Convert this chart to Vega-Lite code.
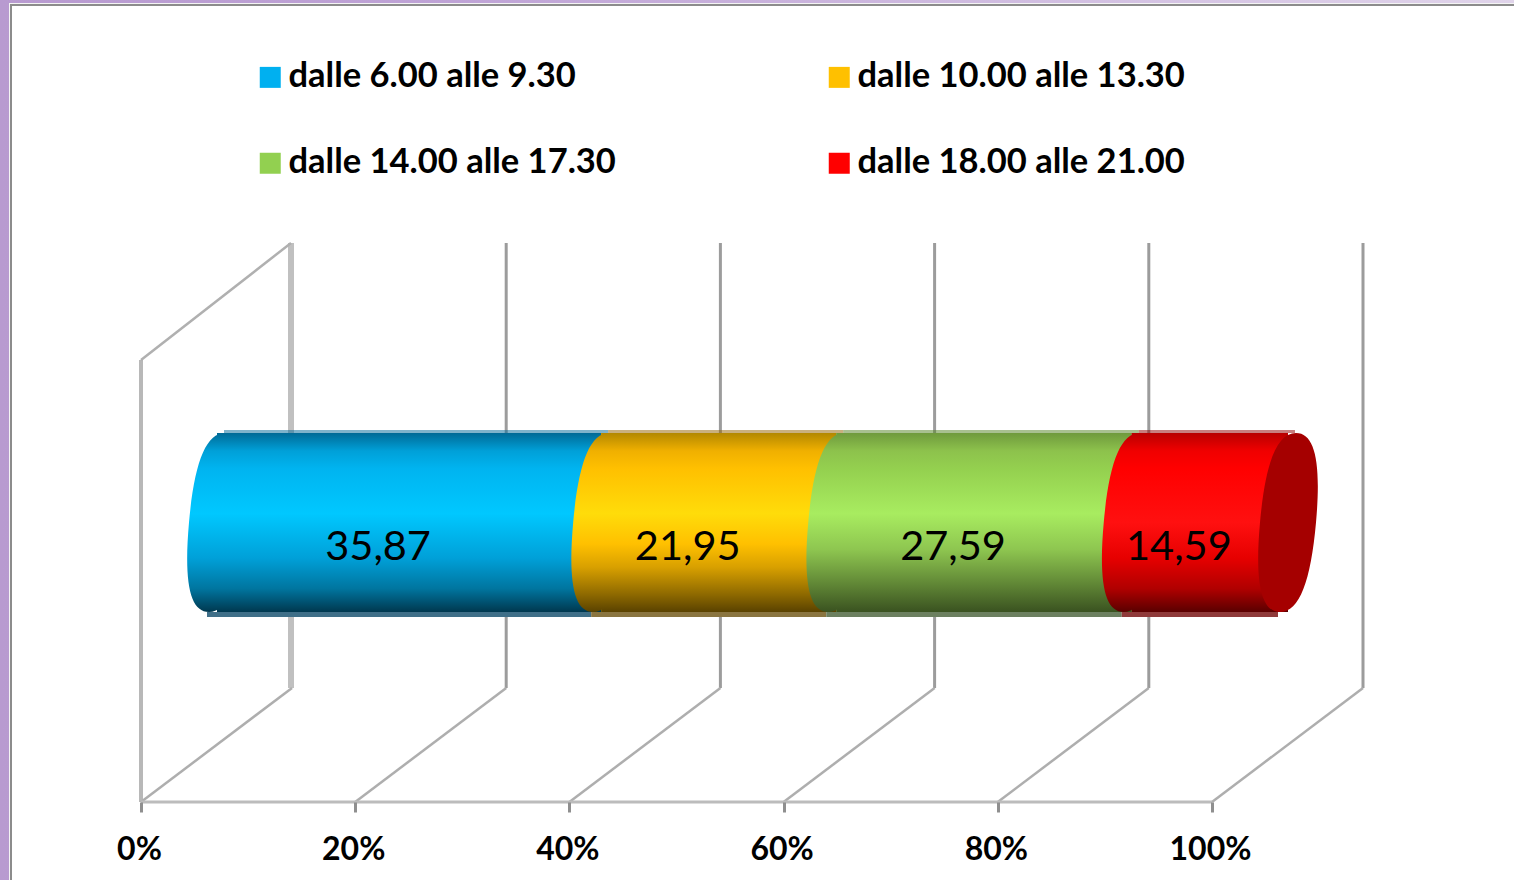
{
"$schema":"https://vega.github.io/schema/vega-lite/v6.json",
"width":1071,"height":559,
"autosize":{"type":"none"},
"padding":{"left":141,"top":243,"right":302,"bottom":78},
"background":"white",
"datasets":{
"griglia":[{"percento":0},{"percento":20},{"percento":40},{"percento":60},{"percento":80},{"percento":100}],
"cornice":[{"pannello":"sfondo"}]
},
"data":{"values":[
{"fascia":"dalle 6.00 alle 9.30","ordine":1,"valore":35.87,"etichetta":"35,87"},
{"fascia":"dalle 10.00 alle 13.30","ordine":2,"valore":21.95,"etichetta":"21,95"},
{"fascia":"dalle 14.00 alle 17.30","ordine":3,"valore":27.59,"etichetta":"27,59"},
{"fascia":"dalle 18.00 alle 21.00","ordine":4,"valore":14.59,"etichetta":"14,59"}
]},
"transform":[{"stack":"valore","groupby":[],"sort":[{"field":"ordine","order":"ascending"}],"as":["inizio","fine"]}],
"resolve":{"scale":{"fill":"independent"}},
"config":{
"view":{"stroke":null},
"axisY":{"disable":true},
"axisX":{"domain":false,"grid":false,"title":null,"tickColor":"#8f8f8f","tickSize":10,"tickWidth":3,"labelFont":"Lato","labelFontSize":32,"labelFontWeight":"bold","labelColor":"black","labelPadding":22,"labelOffset":-2,"labelFlush":false,"labelOverlap":false}
},
"layer":[
{"data":{"name":"cornice"},"mark":{"type":"rect","xOffset":-141,"x2Offset":302,"yOffset":-243,"y2Offset":78,"fill":{"gradient":"linear","x1":0,"y1":0,"x2":1,"y2":0,"stops":[{"offset":0,"color":"#b89ad0"},{"offset":0.3,"color":"#bfa3d6"},{"offset":1,"color":"#e0d4ea"}]}},
 "encoding":{"x":{"datum":0,"type":"quantitative","title":null,"scale":{"domain":[0,100],"nice":false,"zero":false},"axis":{"zindex":1,"values":[0,20,40,60,80,100],"labelExpr":"datum.value + '%'"}},"x2":{"datum":100},"y":{"datum":100,"type":"quantitative","title":null,"scale":{"domain":[0,100],"nice":false,"zero":false}},"y2":{"datum":0}}},
{"data":{"name":"cornice"},"mark":{"type":"rect","xOffset":-132,"x2Offset":302,"yOffset":-240,"y2Offset":78,"fill":"#f4f4f4"},
 "encoding":{"x":{"datum":0,"type":"quantitative","title":null},"x2":{"datum":100},"y":{"datum":100,"type":"quantitative","title":null},"y2":{"datum":0}}},
{"data":{"name":"cornice"},"mark":{"type":"rect","xOffset":-131,"x2Offset":302,"yOffset":-239,"y2Offset":78,"fill":"#8c8c8c"},
 "encoding":{"x":{"datum":0,"type":"quantitative","title":null},"x2":{"datum":100},"y":{"datum":100,"type":"quantitative","title":null},"y2":{"datum":0}}},
{"data":{"name":"cornice"},"mark":{"type":"rect","xOffset":-129,"x2Offset":302,"yOffset":-237,"y2Offset":78,"fill":"white"},
 "encoding":{"x":{"datum":0,"type":"quantitative","title":null},"x2":{"datum":100},"y":{"datum":100,"type":"quantitative","title":null},"y2":{"datum":0}}},
{"data":{"name":"griglia"},"transform":[{"filter":"datum.percento > 0"}],"mark":{"type":"rule","color":"#9c9c9c","strokeWidth":3,"xOffset":151},
 "encoding":{"x":{"field":"percento","type":"quantitative","title":null},"y":{"datum":100,"type":"quantitative","title":null},"y2":{"datum":20.4}}},
{"data":{"name":"griglia"},"transform":[{"filter":"datum.percento == 0"}],"mark":{"type":"rule","color":"#c0c0c0","strokeWidth":6,"xOffset":150},
 "encoding":{"x":{"field":"percento","type":"quantitative","title":null},"y":{"datum":100,"type":"quantitative","title":null},"y2":{"datum":20.4}}},
{"data":{"name":"griglia"},"transform":[{"filter":"datum.percento == 0"}],"mark":{"type":"rule","color":"#b8b8b8","strokeWidth":4},
 "encoding":{"x":{"field":"percento","type":"quantitative","title":null},"y":{"datum":79.07,"type":"quantitative","title":null},"y2":{"datum":0}}},
{"data":{"name":"griglia"},"transform":[{"filter":"datum.percento == 0"}],"mark":{"type":"rule","color":"#b0b0b0","strokeWidth":2.5,"x2Offset":150},
 "encoding":{"x":{"field":"percento","type":"quantitative","title":null},"x2":{"field":"percento"},"y":{"datum":79.07,"type":"quantitative","title":null},"y2":{"datum":100}}},
{"data":{"name":"griglia"},"mark":{"type":"rule","color":"#aeaeae","strokeWidth":2.5,"x2Offset":151},
 "encoding":{"x":{"field":"percento","type":"quantitative","title":null},"x2":{"field":"percento"},"y":{"datum":0,"type":"quantitative","title":null},"y2":{"datum":20.4}}},
{"data":{"name":"cornice"},"mark":{"type":"rule","color":"#bcbcbc","strokeWidth":3},
 "encoding":{"x":{"datum":0,"type":"quantitative","title":null},"x2":{"datum":100},"y":{"datum":0,"type":"quantitative","title":null}}},
{"mark":{"type":"rect","xOffset":76,"x2Offset":76},
 "encoding":{"x":{"field":"inizio","type":"quantitative","title":null},"x2":{"field":"fine"},"y":{"datum":66,"type":"quantitative","title":null},"y2":{"datum":34},
 "fill":{"field":"fascia","type":"nominal","sort":null,"title":null,"scale":{"domain":["dalle 6.00 alle 9.30","dalle 14.00 alle 17.30","dalle 10.00 alle 13.30","dalle 18.00 alle 21.00"],"range":["#00b0f0","#92d050","#ffc000","#ff0000"]},
 "legend":{"orient":"none","legendX":112,"legendY":-183,"columns":2,"columnPadding":206,"rowPadding":51,"symbolType":"square","symbolSize":441,"symbolStrokeWidth":0,"labelFont":"Lato","labelFontSize":34.5,"labelFontWeight":"bold","labelColor":"black","labelLimit":500,"labelOffset":1,"title":null}}}},
{"mark":{"type":"rect","xOffset":83,"x2Offset":83,"opacity":0.5},
 "encoding":{"x":{"field":"inizio","type":"quantitative","title":null},"x2":{"field":"fine"},"y":{"datum":66.55,"type":"quantitative","title":null},"y2":{"datum":66},
 "fill":{"field":"fascia","type":"nominal","sort":null,"legend":null,"scale":{"domain":["dalle 6.00 alle 9.30","dalle 10.00 alle 13.30","dalle 14.00 alle 17.30","dalle 18.00 alle 21.00"],"range":["#006797","#936100","#518121","#910000"]}}}},
{"mark":{"type":"rect","xOffset":66,"x2Offset":66},
 "encoding":{"x":{"field":"inizio","type":"quantitative","title":null},"x2":{"field":"fine"},"y":{"datum":34,"type":"quantitative","title":null},"y2":{"datum":33.1},
 "fill":{"field":"fascia","type":"nominal","sort":null,"legend":null,"scale":{"domain":["dalle 6.00 alle 9.30","dalle 10.00 alle 13.30","dalle 14.00 alle 17.30","dalle 18.00 alle 21.00"],"range":["#3f6f88","#8a7540","#6c8060","#8f3a3a"]}}}},

{"transform":[{"filter":"datum.ordine == 1"}],"mark":{"type":"rect","xOffset":76,"x2Offset":76,"fill":{"gradient":"linear","x1":0,"y1":0,"x2":0,"y2":1,"stops":[{"offset":0,"color":"#006a96"},{"offset":0.1,"color":"#00a0d8"},{"offset":0.2,"color":"#00b4f0"},{"offset":0.45,"color":"#00c8ff"},{"offset":0.7,"color":"#00a0d8"},{"offset":0.87,"color":"#00759f"},{"offset":1,"color":"#00384f"}]}},
 "encoding":{"x":{"field":"inizio","type":"quantitative","title":null},"x2":{"field":"fine"},"y":{"datum":66,"type":"quantitative","title":null},"y2":{"datum":34}}},
{"transform":[{"filter":"datum.ordine == 1"}],"mark":{"type":"point","filled":true,"opacity":1,"size":4,"xOffset":76,"shape":"M8,-89.5C-11.6,-89.5,-22.8,-58.2,-28,0C-33.2,58.2,-27.6,89.5,-8,89.5C11.6,89.5,22.8,58.2,28,0C33.2,-58.2,27.6,-89.5,8,-89.5Z","fill":{"gradient":"linear","x1":0,"y1":0,"x2":0,"y2":1,"stops":[{"offset":0,"color":"#006a96"},{"offset":0.1,"color":"#00a0d8"},{"offset":0.2,"color":"#00b4f0"},{"offset":0.45,"color":"#00c8ff"},{"offset":0.7,"color":"#00a0d8"},{"offset":0.87,"color":"#00759f"},{"offset":1,"color":"#00384f"}]}},
 "encoding":{"x":{"field":"inizio","type":"quantitative","title":null},"y":{"datum":50,"type":"quantitative","title":null}}},

{"transform":[{"filter":"datum.ordine == 2"}],"mark":{"type":"rect","xOffset":76,"x2Offset":76,"fill":{"gradient":"linear","x1":0,"y1":0,"x2":0,"y2":1,"stops":[{"offset":0,"color":"#b38800"},{"offset":0.1,"color":"#f0b000"},{"offset":0.2,"color":"#ffc000"},{"offset":0.45,"color":"#ffdc0a"},{"offset":0.62,"color":"#ffc000"},{"offset":0.75,"color":"#d8a000"},{"offset":0.9,"color":"#8f6a00"},{"offset":1,"color":"#5a4200"}]}},
 "encoding":{"x":{"field":"inizio","type":"quantitative","title":null},"x2":{"field":"fine"},"y":{"datum":66,"type":"quantitative","title":null},"y2":{"datum":34}}},
{"transform":[{"filter":"datum.ordine == 2"}],"mark":{"type":"point","filled":true,"opacity":1,"size":4,"xOffset":76,"shape":"M8,-89.5C-11.6,-89.5,-22.8,-58.2,-28,0C-33.2,58.2,-27.6,89.5,-8,89.5C11.6,89.5,22.8,58.2,28,0C33.2,-58.2,27.6,-89.5,8,-89.5Z","fill":{"gradient":"linear","x1":0,"y1":0,"x2":0,"y2":1,"stops":[{"offset":0,"color":"#b38800"},{"offset":0.1,"color":"#f0b000"},{"offset":0.2,"color":"#ffc000"},{"offset":0.45,"color":"#ffdc0a"},{"offset":0.62,"color":"#ffc000"},{"offset":0.75,"color":"#d8a000"},{"offset":0.9,"color":"#8f6a00"},{"offset":1,"color":"#5a4200"}]}},
 "encoding":{"x":{"field":"inizio","type":"quantitative","title":null},"y":{"datum":50,"type":"quantitative","title":null}}},

{"transform":[{"filter":"datum.ordine == 3"}],"mark":{"type":"rect","xOffset":76,"x2Offset":76,"fill":{"gradient":"linear","x1":0,"y1":0,"x2":0,"y2":1,"stops":[{"offset":0,"color":"#6f9a3d"},{"offset":0.1,"color":"#8dc24c"},{"offset":0.2,"color":"#94d04f"},{"offset":0.45,"color":"#a8ec60"},{"offset":0.65,"color":"#8ec650"},{"offset":0.85,"color":"#5f8535"},{"offset":1,"color":"#3a5220"}]}},
 "encoding":{"x":{"field":"inizio","type":"quantitative","title":null},"x2":{"field":"fine"},"y":{"datum":66,"type":"quantitative","title":null},"y2":{"datum":34}}},
{"transform":[{"filter":"datum.ordine == 3"}],"mark":{"type":"point","filled":true,"opacity":1,"size":4,"xOffset":76,"shape":"M8,-89.5C-11.6,-89.5,-22.8,-58.2,-28,0C-33.2,58.2,-27.6,89.5,-8,89.5C11.6,89.5,22.8,58.2,28,0C33.2,-58.2,27.6,-89.5,8,-89.5Z","fill":{"gradient":"linear","x1":0,"y1":0,"x2":0,"y2":1,"stops":[{"offset":0,"color":"#6f9a3d"},{"offset":0.1,"color":"#8dc24c"},{"offset":0.2,"color":"#94d04f"},{"offset":0.45,"color":"#a8ec60"},{"offset":0.65,"color":"#8ec650"},{"offset":0.85,"color":"#5f8535"},{"offset":1,"color":"#3a5220"}]}},
 "encoding":{"x":{"field":"inizio","type":"quantitative","title":null},"y":{"datum":50,"type":"quantitative","title":null}}},

{"transform":[{"filter":"datum.ordine == 4"}],"mark":{"type":"rect","xOffset":76,"x2Offset":76,"fill":{"gradient":"linear","x1":0,"y1":0,"x2":0,"y2":1,"stops":[{"offset":0,"color":"#b80000"},{"offset":0.1,"color":"#f00000"},{"offset":0.2,"color":"#ff0000"},{"offset":0.5,"color":"#ff1010"},{"offset":0.7,"color":"#e60000"},{"offset":0.87,"color":"#b00000"},{"offset":1,"color":"#5a0000"}]}},
 "encoding":{"x":{"field":"inizio","type":"quantitative","title":null},"x2":{"field":"fine"},"y":{"datum":66,"type":"quantitative","title":null},"y2":{"datum":34}}},
{"transform":[{"filter":"datum.ordine == 4"}],"mark":{"type":"point","filled":true,"opacity":1,"size":4,"xOffset":76,"shape":"M8,-89.5C-11.6,-89.5,-22.8,-58.2,-28,0C-33.2,58.2,-27.6,89.5,-8,89.5C11.6,89.5,22.8,58.2,28,0C33.2,-58.2,27.6,-89.5,8,-89.5Z","fill":{"gradient":"linear","x1":0,"y1":0,"x2":0,"y2":1,"stops":[{"offset":0,"color":"#b80000"},{"offset":0.1,"color":"#f00000"},{"offset":0.2,"color":"#ff0000"},{"offset":0.5,"color":"#ff1010"},{"offset":0.7,"color":"#e60000"},{"offset":0.87,"color":"#b00000"},{"offset":1,"color":"#5a0000"}]}},
 "encoding":{"x":{"field":"inizio","type":"quantitative","title":null},"y":{"datum":50,"type":"quantitative","title":null}}},
{"transform":[{"filter":"datum.ordine == 4"}],"mark":{"type":"point","filled":true,"opacity":1,"size":4,"xOffset":76,"shape":"M8,-89.5C-11.6,-89.5,-22.8,-58.2,-28,0C-33.2,58.2,-27.6,89.5,-8,89.5C11.6,89.5,22.8,58.2,28,0C33.2,-58.2,27.6,-89.5,8,-89.5Z","fill":"#a50000"},
 "encoding":{"x":{"field":"fine","type":"quantitative","title":null},"y":{"datum":50,"type":"quantitative","title":null}}},

{"transform":[{"calculate":"(datum.inizio + datum.fine) / 2","as":"centro"}],"mark":{"type":"text","font":"Lato","fontSize":41.5,"color":"black","xOffset":45,"baseline":"middle","align":"center"},
 "encoding":{"x":{"field":"centro","type":"quantitative","title":null},"y":{"datum":45.5,"type":"quantitative","title":null},"text":{"field":"etichetta"}}}
]
}
